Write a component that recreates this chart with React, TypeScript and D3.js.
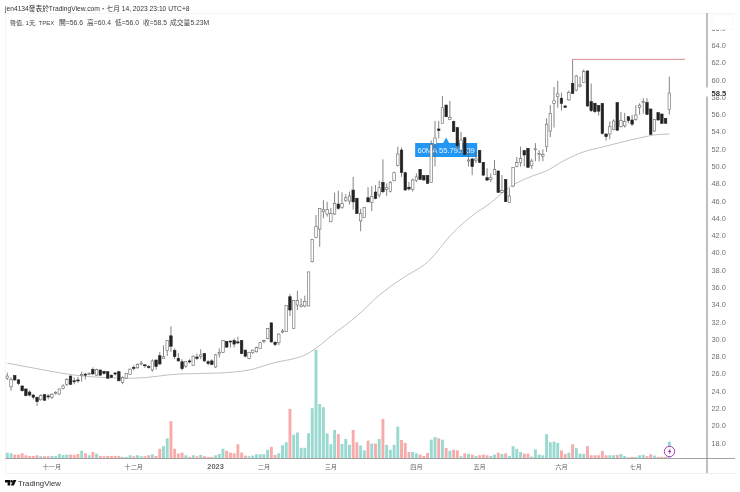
import React from 'react';
import * as d3 from 'd3';

const opens = [25.5,24.5,25.8,25.3,24.6,24.25,23.9,23.55,23.3,23,23.6,23.45,23.3,23.75,23.65,24.3,24.8,25.75,25.2,25.3,25.8,25.98,25.95,26.5,25.85,26.45,26.3,26.25,25.85,26.1,26.25,25,25.5,25.95,26.75,26.7,27.15,27.05,26.85,26.45,27.6,28.1,27.8,28.7,30.4,28.7,27.8,27.4,26.9,27.5,27,27.95,28,28.35,27.4,27.5,26.8,28.3,28.5,29.75,29.8,29.85,29.7,29.85,28.75,27.8,28.45,28.55,28.95,29.75,30.1,31.9,29.65,29.6,30.85,30.88,34.93,31.27,33.97,33.8,33.85,33.85,38.98,41.79,42.76,44.76,44.5,43.6,44.5,45.65,45.26,46.1,46,47.27,46.3,43.7,44.1,46.38,45.85,47.04,46.7,48.16,47.35,47.1,48.35,50.1,51.9,49.28,47.6,47.35,48.36,49.67,48.94,48.94,48.13,52.56,54.34,55,57.1,55.46,55.2,54.5,51.9,53.33,50.63,50.87,50.67,51.83,50.48,48.7,48.5,49.1,49.48,47,48.5,45.85,47.74,49.98,50.48,51.83,52.1,50.1,52,51.4,51.2,52.3,54.1,57.3,58.08,57.9,57,57.7,59.62,58.85,59.3,59.74,61.05,57.5,57.3,57.04,57.3,53.76,53.76,54.3,57.4,54.6,54.7,55.76,55.38,55.46,56.84,57.4,57.4,56.65,54.1,56.23,56.07,55.57,56.6];
const highs = [26.13,25.6,25.85,25.4,24.65,24.3,24.1,23.65,23.3,23.65,23.6,23.65,23.75,24,24.3,24.8,25.5,25.8,25.6,25.65,26.25,26.1,26.2,26.75,26.6,26.5,26.35,26.3,25.9,26.2,26.3,25.7,26.1,26.6,27,27.2,27.5,27.1,27,27.7,27.65,28.55,29.3,29.9,31.5,28.95,28.4,27.7,27.5,27.7,28.1,28.35,28.85,28.4,27.6,27.7,28.3,28.95,29.9,29.8,29.85,30.1,30.3,29.9,28.8,28.55,28.8,29.15,29.7,29.95,31.3,31.95,29.8,30.7,31.2,33.93,35.24,34.47,35.63,34.74,35.05,37.8,41.57,44.38,45.15,46.1,45.9,45.2,46.96,47.2,47,46.8,47.1,48.8,46.4,45.1,45.3,47.6,47.73,47.85,48.35,50.82,48.04,48.3,49.4,52.3,52.2,49.4,48.2,48.6,49.2,49.7,49,49,53,55.26,55.26,58.16,57.2,57.6,55.3,54.5,54,53.4,52,51,51.7,51.9,50.5,49.8,49.2,50.75,49.5,49,48.5,47.47,49.9,51.1,52.3,51.9,52.1,50.9,52.7,51.9,52,55.57,57.1,59.2,59.9,58.54,57.1,58.8,62.4,60.6,60.4,61.24,61.1,59.6,57.4,57.1,57.3,53.8,55.2,55.46,57.4,56.3,56.2,55.8,56,57.1,57.3,57.9,57.9,56.7,55.5,56.25,56.1,55.6,60.4];
const lows = [25.3,24.05,25.2,24.7,23.95,23.4,23.4,23.05,22.3,22.9,22.9,23.05,23.1,23.6,23.6,24.2,24.6,24.7,24.8,24.95,25.1,25.35,25.85,25.85,25.8,25.8,25.9,25.45,25.55,25.8,25.15,24.8,25.45,25.9,26.4,26.6,27,26.7,26.6,26.25,26.5,27,27.8,28.05,28.55,27.7,27.4,26.4,26.7,27.2,26.95,27.6,27.7,27.4,27,27,26.7,27.9,28.4,29,29.05,29.05,29.45,28.3,27.9,27.7,28.3,28.5,28.9,29.55,30,29.6,29.2,29.3,30.7,30.88,32.7,31.27,33.4,33.7,33.7,33.85,38.9,41.7,40.7,44,44.2,43.6,44.4,45,45.1,45.9,45.6,45.03,44.5,42.5,44.1,45.9,44.84,46.2,46.4,46.9,46.6,47,48.3,50,48.8,47.2,47.2,47.1,48.2,48.5,48.4,48,48.1,50,53.26,55,55.7,55.4,54,52,51.5,51.3,50,49,50.4,50.4,48.9,48.3,48.2,49.1,47,46.9,45.9,45.8,47.6,49.9,50,50,49.9,49.7,50.6,50.6,50.6,51.7,53.4,54.5,56.8,56.46,56.8,57.6,58.4,58.7,59.16,59.7,56.9,56.3,56.2,55.9,53.7,53,53.15,54.2,54.1,54.5,54.5,55,54.7,55.3,56,56.1,56,53.7,54,55.3,54.9,55,56];
const closes = [25.75,25.35,25.3,24.9,24.05,23.5,23.55,23.3,22.8,23.5,22.95,23.35,23.65,23.85,24.25,24.6,25.35,24.8,25.1,25.2,25.95,25.85,26.05,26,26.5,25.85,26.05,25.5,25.6,25.98,25.2,25.6,26.05,26.55,26.65,27.1,27.25,26.95,26.75,27.5,26.85,27.15,27.98,29.85,29.2,28,27.5,26.6,27.4,27.4,28.05,27.8,28.2,27.5,27.2,27.1,28.2,28.45,29.85,29.1,29.7,29.45,29.6,28.35,28.05,28.5,28.75,29.05,29.6,29.85,31.25,29.7,29.4,30.6,30.96,33.93,33.39,34.47,34.47,33.97,34.36,37.8,41.56,43.03,45.15,45.03,45.03,44.57,45.73,45.15,45.73,46.38,46.58,45.9,44.57,44.57,45.26,45.9,46.5,46.3,47.54,47.08,47.54,48.16,49.28,51.44,49.3,47.28,47.4,48.43,48.8,48.5,48.43,48.05,52.56,53.3,54.18,56.8,55.76,55.65,54.03,52.4,53.06,51.4,50.75,49.98,50.87,50.48,49,48.43,48.7,49.67,47,47.2,45.93,46.58,49.9,50.44,50.94,51.33,49.9,50.63,52.05,51.5,51.4,54.9,56.15,57.6,58.4,57.3,56.85,58.58,58.46,60.47,59.43,60.97,57,56.46,56.34,56.4,53.83,53.45,54.6,55.26,54.2,55.3,55.2,55.3,54.9,55.96,57.1,57.5,56.03,53.72,55.46,55.38,55,55,58.5];
const volumes = [1.8,1.6,1.2,1.2,1.6,1,0.8,0.8,1,0.7,0.7,0.7,0.8,0.8,1.4,1.1,1.2,1.2,1.1,1.4,2.4,1.6,1,2,1.5,0.8,0.7,0.8,0.8,0.8,0.8,0.5,0.5,1,0.7,1,0.7,0.7,1,1.3,0.8,3,3.8,6.2,11.5,3,1.5,1.8,1,0.5,1,0.7,1.1,0.7,0.5,0.5,1,1.4,3,2.4,1.8,1.6,4.4,1.8,0.9,0.7,0.9,1.3,1.3,1.3,2.7,3.6,1.1,1.6,4.1,5,15.3,7.3,8,3.3,3.3,7.8,15.5,33.5,16.8,15.8,7.7,4.4,8.8,7.5,4.5,6,4.2,8.8,5,4,2.5,5.5,4.6,4.6,6,12.2,4.2,2.7,4.2,9.8,5.7,4.8,2,2,1.6,1.2,0.8,1.7,5.8,6.6,6.2,5.8,3.2,2.4,2.7,2.5,0.7,1.6,1.4,1.2,0.8,1,1.2,1,0.8,1.2,1.8,1.4,1.6,0.8,3.8,3,2,1.5,1.5,0.6,2.8,1.2,1,7.5,5,5.2,4.8,2.5,1.4,1.8,4.4,3.2,1.5,1.4,3.8,1,1,1,2.3,1,1,1,1.1,1.4,0.8,0.4,0.5,0.5,1,1.1,0.7,1.3,0.9,0.5,0.5,0.5,5.23];
const maIndex = [0,10,18,25,34,46,57,65,71,81,88,94,100,106,113,120,125,130,135,140,145,150,155,160,165,170,175,178];
const maValues = [27.25,26.44,25.86,25.6,25.5,25.98,26.1,26.45,27.2,28.4,30.7,32.7,35.1,37,38.95,42.4,44.3,45.8,47.6,48.7,49.5,50.75,51.7,52.25,52.8,53.3,53.7,53.75];
const priceTicks = [18,20,22,24,26,28,30,32,34,36,38,40,42,44,46,48,50,52,54,56,58,60,62,64,66];
const monthIndex = [12,34,56,69,87,110,127,149,169];
const monthLabels = ['十一月','十二月','2023','二月','三月','四月','五月','六月','七月'];
const legendLabels = ['聲值, 1天, TPEX', '開=56.6', '高=60.4', '低=56.0', '收=58.5', '成交量5.23M'];
const legendX = [10, 59, 87, 115, 143, 170];
const highLevel = 62.4;
const lastClose = 58.5;
const maLabel = '60MA 55.791539';

const FONT = '"Liberation Sans","Noto Sans CJK TC",sans-serif';
const UP = '#ffffff';
const DOWN = '#222222';
const VUP = '#9ad9d0';
const VDOWN = '#f7abab';

export default function App() {
  const x = d3.scaleLinear().domain([0, 178]).range([7.3, 669.3]);
  const y = d3.scaleLinear().domain([18, 64]).range([443, 45.5]);
  const v = d3.scaleLinear().domain([0, 34.2]).range([458.5, 347.5]);
  const ma = d3.line<number>().x((d) => x(d)).y((_, i) => y(maValues[i])).curve(d3.curveMonotoneX);
  const bw = 2.9;
  const cw = 2.5;
  const tx = x(118);
  return (
    <svg width={740} height={492} style={{ position: 'absolute', left: 0, top: 0, background: '#fff' }} fontFamily={FONT}>
      <defs>
        <filter id="soft" x="0" y="0" width="100%" height="100%" filterUnits="userSpaceOnUse" primitiveUnits="userSpaceOnUse">
          <feGaussianBlur stdDeviation="0.3" />
        </filter>
      </defs>
      <g filter="url(#soft)">
        <rect width={740} height={492} fill="#fff" />
        <text x={5} y={11} fontSize={6.7} fill="#333">jen4134發表於TradingView.com・七月 14, 2023 23:10 UTC+8</text>
        <line x1={5.5} x2={5.5} y1={13} y2={473} stroke="#f5f5f5" />
        <line x1={5.5} x2={735} y1={13.5} y2={13.5} stroke="#f5f5f5" />
        <line x1={5.5} x2={735} y1={473.5} y2={473.5} stroke="#f0f0f0" />
        {legendLabels.map((t, i) => (
          <text key={t} x={legendX[i]} y={25} fontSize={i === 0 ? 6.1 : 6.8} fill="#444">{t}</text>
        ))}

        {volumes.map((d, i) => (
          <rect key={i} x={x(i) - bw / 2} y={v(d)} width={bw} height={v(0) - v(d)} fill={closes[i] >= opens[i] ? VUP : VDOWN} />
        ))}
        <path d={ma(maIndex) ?? ''} fill="none" stroke="#bfb6b6" strokeWidth={0.9} />
        <line x1={x(152)} x2={685} y1={y(highLevel)} y2={y(highLevel)} stroke="#dd8f8f" strokeWidth={1} />

        <g>
          <path d={`M${tx - 31},143 H${tx - 3} l3,-5.5 l3,5.5 H${tx + 31} v14 H${tx - 31} Z`} fill="#2196f3" />
          <text x={tx} y={152.8} textAnchor="middle" fontSize={7.6} fill="#e8f3ff">{maLabel}</text>
        </g>

        {opens.map((o, i) => {
          const c = closes[i];
          const up = c >= o;
          const top = y(Math.max(o, c));
          const bot = y(Math.min(o, c));
          return (
            <g key={i}>
              <line x1={x(i)} x2={x(i)} y1={y(highs[i])} y2={y(lows[i])} stroke="#666" strokeWidth={0.8} />
              <rect x={x(i) - cw / 2} y={top} width={cw} height={Math.max(bot - top, 1)} fill={up ? UP : DOWN} stroke={up ? '#666' : DOWN} strokeWidth={0.6} />
            </g>
          );
        })}

        <line x1={5.5} x2={735} y1={458.5} y2={458.5} stroke="#9a9a9a" strokeWidth={0.9} />
        <circle cx={669.5} cy={451.5} r={5.2} fill="#fff" stroke="#9c27b0" strokeWidth={0.9} />
        <path d="M670.7,447.8 l-2.8,4.2 h1.8 l-1.1,3.2 l2.9,-4.4 h-1.8 z" fill="#9c27b0" />

        <line x1={707} x2={707} y1={13} y2={473} stroke="#8a8a8a" strokeWidth={1.1} />
        {priceTicks.map((t) => (
          <text key={t} x={711.5} y={y(t)} dominantBaseline="central" fontSize={7.4} fill="#707070">{t.toFixed(1)}</text>
        ))}
        <rect x={712} y={15} width={21} height={14.5} fill="#fff" stroke="#f4f4f4" strokeWidth={0.6} />
        <rect x={704} y={87.5} width={33} height={9} fill="#fff" />
        <text x={711.5} y={y(lastClose)} dominantBaseline="central" fontSize={7.6} fontWeight="bold" fill="#333">{lastClose.toFixed(1)}</text>

        {monthIndex.map((m, i) => (
          <text key={m} x={x(m)} y={466.5} dominantBaseline="central" textAnchor="middle" fontSize={monthLabels[i] === '2023' ? 7.4 : 6.2} fontWeight={monthLabels[i] === '2023' ? 'bold' : 'normal'} fill="#666">{monthLabels[i]}</text>
        ))}

        <path d="M5,480 h5.2 v5.6 h-2.6 v-3 H5 Z M13.8,485.6 h-3 l2.6,-5.6 h3 Z" fill="#111" />
        <circle cx={11.6} cy={481.3} r={1.2} fill="#111" />
        <text x={18} y={485.7} fontSize={7.8} fill="#333">TradingView</text>
      </g>
    </svg>
  );
}
